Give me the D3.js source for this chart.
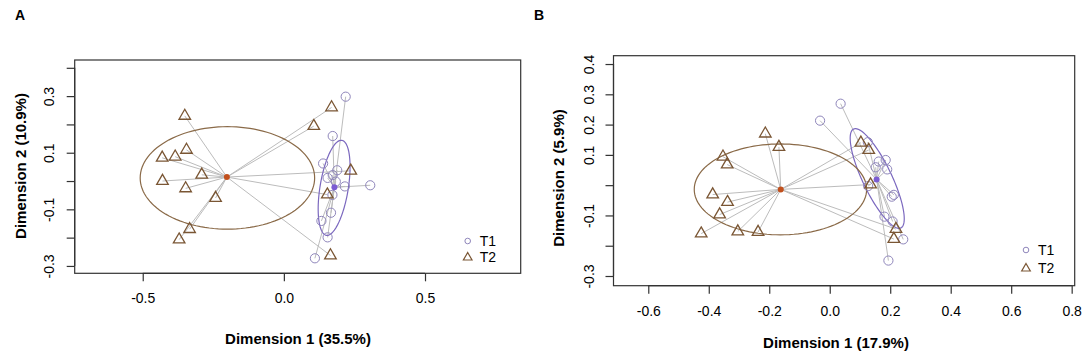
<!DOCTYPE html>
<html><head><meta charset="utf-8">
<script src="https://cdn.jsdelivr.net/npm/d3@7"></script>
<style>body{margin:0;background:#fff} svg{display:block} text{font-family:"Liberation Sans",Arial,sans-serif;fill:#000}</style>
</head><body><svg id="c" width="1084" height="359"></svg>
<script>
// ---------- DATA ----------
const groupNames = ["T1", "T2"];

// Panel A
const aT1x = [0.219, 0.173, 0.139, 0.189, 0.173, 0.155, 0.184, 0.216, 0.306, 0.172, 0.167, 0.133, 0.155, 0.110];
const aT1y = [0.298, 0.159, 0.062, 0.038, 0.021, 0.011, -0.002, -0.019, -0.015, -0.049, -0.112, -0.141, -0.199, -0.273];
const aT2x = [-0.351, -0.345, -0.431, -0.385, -0.291, -0.430, -0.348, -0.242, -0.334, -0.371, 0.169, 0.106, 0.237, 0.154, 0.165];
const aT2y = [0.230, 0.110, 0.082, 0.086, 0.022, 0.000, -0.026, -0.060, -0.170, -0.207, 0.260, 0.194, 0.036, -0.048, -0.263];
const aCentroidX = [0.179, -0.202];
const aCentroidY = [-0.022, 0.014];
const aEllipseCx = [0.178, -0.200];
const aEllipseCy = [-0.024, 0.011];
const aEllipseMajor = [0.170, 0.309];
const aEllipseMinor = [0.050, 0.181];
const aEllipseAngle = [80.7, 0];
const aXTicks = [-0.5, 0.0, 0.5];
const aYTicks = [-0.3, -0.2, -0.1, 0.0, 0.1, 0.2, 0.3, 0.4];
const aYTickLabels = [-0.3, -0.1, 0.1, 0.3];
const aXTitle = "Dimension 1 (35.5%)";
const aYTitle = "Dimension 2 (10.9%)";

// Panel B
const bT1x = [0.036, -0.032, 0.126, 0.162, 0.185, 0.152, 0.190, 0.205, 0.212, 0.127, 0.181, 0.208, 0.243, 0.194];
const bT1y = [0.269, 0.213, 0.142, 0.078, 0.083, 0.059, 0.052, -0.038, -0.032, -0.003, -0.104, -0.120, -0.179, -0.249];
const bT2x = [-0.213, -0.168, -0.353, -0.339, -0.387, -0.338, -0.364, -0.425, -0.304, -0.237, 0.103, 0.129, 0.135, 0.219, 0.212];
const bT2y = [0.170, 0.126, 0.094, 0.068, -0.031, -0.056, -0.097, -0.160, -0.153, -0.155, 0.140, 0.116, 0.002, -0.145, -0.178];
const bCentroidX = [0.155, -0.162];
const bCentroidY = [0.019, -0.014];
const bEllipseCx = [0.157, -0.163];
const bEllipseCy = [0.022, -0.014];
const bEllipseMajor = [0.181, 0.285];
const bEllipseMinor = [0.048, 0.150];
const bEllipseAngle = [115.6, 0];
const bXTicks = [-0.6, -0.4, -0.2, 0.0, 0.2, 0.4, 0.6, 0.8];
const bYTicks = [-0.3, -0.2, -0.1, 0.0, 0.1, 0.2, 0.3, 0.4];
const bYTickLabels = [-0.3, -0.1, 0.1, 0.2, 0.3, 0.4];
const bXTitle = "Dimension 1 (17.9%)";
const bYTitle = "Dimension 2 (5.9%)";

// ---------- STYLE ----------
const colPt = ["#8f86bb", "#7a5634"];
const colEll = ["#7b68bf", "#8a6a48"];
const colCent = ["#7b5cd3", "#c2501c"];
const colSpider = "#bcbcbc";

const svg = d3.select("#c");
const fmt = v => v.toFixed(1);
const TRC0 = Math.sqrt(4 * Math.PI / (3 * Math.sqrt(3))), TRC1 = TRC0 * Math.sqrt(3) / 2, TRC2 = TRC0 / 2;
function triPath(cx, cy, s) {
  const r = TRC0 * s, xc = TRC1 * s, yc = TRC2 * s;
  return `M${cx},${cy - r}L${cx + xc},${cy + yc}L${cx - xc},${cy + yc}Z`;
}

function panel(cfg) {
  const g = svg.append("g");
  const x = d3.scaleLinear().domain(cfg.xDom).range([cfg.box.l, cfg.box.r]);
  const y = d3.scaleLinear().domain(cfg.yDom).range([cfg.box.b, cfg.box.t]);

  const pts = [
    cfg.t1x.map((v, i) => ({ x: v, y: cfg.t1y[i], g: 0 })),
    cfg.t2x.map((v, i) => ({ x: v, y: cfg.t2y[i], g: 1 }))
  ];

  // spider segments
  [0, 1].forEach(k => {
    g.append("g").selectAll("line").data(pts[k]).join("line")
      .attr("x1", d => x(d.x)).attr("y1", d => y(d.y))
      .attr("x2", x(cfg.cx[k])).attr("y2", y(cfg.cy[k]))
      .attr("stroke", colSpider).attr("stroke-width", 1);
  });

  // ellipses
  [0, 1].forEach(k => {
    const th = cfg.eAng[k] * Math.PI / 180;
    const ts = d3.range(0, 361, 3).map(d => d * Math.PI / 180);
    const line = d3.line()
      .x(t => x(cfg.ecx[k] + cfg.eA[k] * Math.cos(t) * Math.cos(th) - cfg.eB[k] * Math.sin(t) * Math.sin(th)))
      .y(t => y(cfg.ecy[k] + cfg.eA[k] * Math.cos(t) * Math.sin(th) + cfg.eB[k] * Math.sin(t) * Math.cos(th)))
      .curve(d3.curveLinearClosed);
    g.append("path").attr("d", line(ts)).attr("fill", "none")
      .attr("stroke", colEll[k]).attr("stroke-width", 1.2);
  });

  // points
  g.append("g").selectAll("circle").data(pts[0]).join("circle")
    .attr("cx", d => x(d.x)).attr("cy", d => y(d.y)).attr("r", 4.6)
    .attr("fill", "none").attr("stroke", colPt[0]).attr("stroke-width", 1);
  g.append("g").selectAll("path").data(pts[1]).join("path")
    .attr("d", d => triPath(x(d.x), y(d.y), 4.3))
    .attr("fill", "none").attr("stroke", colPt[1]).attr("stroke-width", 1.3);

  // centroids
  [0, 1].forEach(k => {
    g.append("circle").attr("cx", x(cfg.cx[k])).attr("cy", y(cfg.cy[k])).attr("r", 3)
      .attr("fill", colCent[k]).attr("stroke", "none");
  });

  // box
  g.append("rect").attr("x", cfg.box.l).attr("y", cfg.box.t)
    .attr("width", cfg.box.r - cfg.box.l).attr("height", cfg.box.b - cfg.box.t)
    .attr("fill", "none").attr("stroke", "#333").attr("stroke-width", 1.2);

  // x axis
  const xa = g.append("g").attr("transform", `translate(0,${cfg.box.b})`)
    .call(d3.axisBottom(x).tickValues(cfg.xTicks).tickFormat(fmt).tickSize(8).tickPadding(12));
  xa.select(".domain").attr("stroke", "#333").attr("stroke-width", 1.2)
    .attr("d", `M${x(cfg.xTicks[0])},0H${x(cfg.xTicks[cfg.xTicks.length - 1])}`);
  xa.selectAll(".tick line").attr("stroke", "#333").attr("stroke-width", 1.2);
  xa.selectAll(".tick text").attr("font-size", 14).attr("font-family", "Liberation Sans, Arial, sans-serif").attr("fill", "#000");

  // y axis
  const ya = g.append("g").attr("transform", `translate(${cfg.box.l},0)`)
    .call(d3.axisLeft(y).tickValues(cfg.yTicks).tickFormat(d => cfg.yLabels.some(v => Math.abs(v - d) < 1e-9) ? fmt(d) : "").tickSize(8));
  ya.select(".domain").attr("stroke", "#333").attr("stroke-width", 1.2)
    .attr("d", `M0,${y(cfg.yTicks[0])}V${y(cfg.yTicks[cfg.yTicks.length - 1])}`);
  ya.selectAll(".tick line").attr("stroke", "#333").attr("stroke-width", 1.2);
  ya.selectAll(".tick text").attr("font-size", 14).attr("font-family", "Liberation Sans, Arial, sans-serif").attr("fill", "#000")
    .attr("x", 0).attr("dy", null).attr("text-anchor", "middle")
    .attr("transform", `translate(${-cfg.yLabelOff},0) rotate(-90)`).attr("dominant-baseline", "central");

  // titles
  g.append("text").attr("x", cfg.xTitlePos[0]).attr("y", cfg.xTitlePos[1]).attr("text-anchor", "middle")
    .attr("dominant-baseline", "central").attr("font-size", 15).attr("font-weight", "bold").text(cfg.xTitle);
  g.append("text").attr("transform", `translate(${cfg.yTitlePos[0]},${cfg.yTitlePos[1]}) rotate(-90)`)
    .attr("text-anchor", "middle").attr("dominant-baseline", "central")
    .attr("font-size", 15).attr("font-weight", "bold").text(cfg.yTitle);
  g.append("text").attr("x", cfg.letterPos[0]).attr("y", cfg.letterPos[1]).attr("text-anchor", "middle")
    .attr("dominant-baseline", "central").attr("font-size", 14).attr("font-weight", "bold").text(cfg.letter);

  // legend
  const lg = g.append("g");
  groupNames.forEach((nm, k) => {
    const ly = cfg.legPos[1] + k * cfg.legGap;
    if (k === 0) lg.append("circle").attr("cx", cfg.legPos[0]).attr("cy", ly).attr("r", 2.8)
      .attr("fill", "none").attr("stroke", colPt[0]).attr("stroke-width", 1);
    else lg.append("path").attr("d", triPath(cfg.legPos[0], ly + 1, 3.2))
      .attr("fill", "none").attr("stroke", colPt[1]).attr("stroke-width", 1.2);
    lg.append("text").attr("x", cfg.legPos[0] + 12).attr("y", ly).attr("dominant-baseline", "central")
      .attr("font-size", 14).text(nm);
  });
}

panel({
  letter: "A", letterPos: [20, 15],
  box: { l: 74.7, r: 520.7, t: 60, b: 273.3 },
  xDom: [-0.741, 0.839], yDom: [-0.326, 0.4276],
  t1x: aT1x, t1y: aT1y, t2x: aT2x, t2y: aT2y,
  cx: aCentroidX, cy: aCentroidY,
  ecx: aEllipseCx, ecy: aEllipseCy, eA: aEllipseMajor, eB: aEllipseMinor, eAng: aEllipseAngle,
  xTicks: aXTicks, yTicks: aYTicks, yLabels: aYTickLabels, yLabelOff: 26,
  xTitle: aXTitle, yTitle: aYTitle, xTitlePos: [298, 338], yTitlePos: [20, 166],
  legPos: [467.7, 241], legGap: 15.5
});

panel({
  letter: "B", letterPos: [539, 15],
  box: { l: 613.5, r: 1074.7, t: 55.7, b: 285.7 },
  xDom: [-0.715, 0.810], yDom: [-0.332, 0.4275],
  t1x: bT1x, t1y: bT1y, t2x: bT2x, t2y: bT2y,
  cx: bCentroidX, cy: bCentroidY,
  ecx: bEllipseCx, ecy: bEllipseCy, eA: bEllipseMajor, eB: bEllipseMinor, eAng: bEllipseAngle,
  xTicks: bXTicks, yTicks: bYTicks, yLabels: bYTickLabels, yLabelOff: 25,
  xTitle: bXTitle, yTitle: bYTitle, xTitlePos: [836, 342], yTitlePos: [558, 178],
  legPos: [1026, 250], legGap: 17.5
});
</script></body></html>
